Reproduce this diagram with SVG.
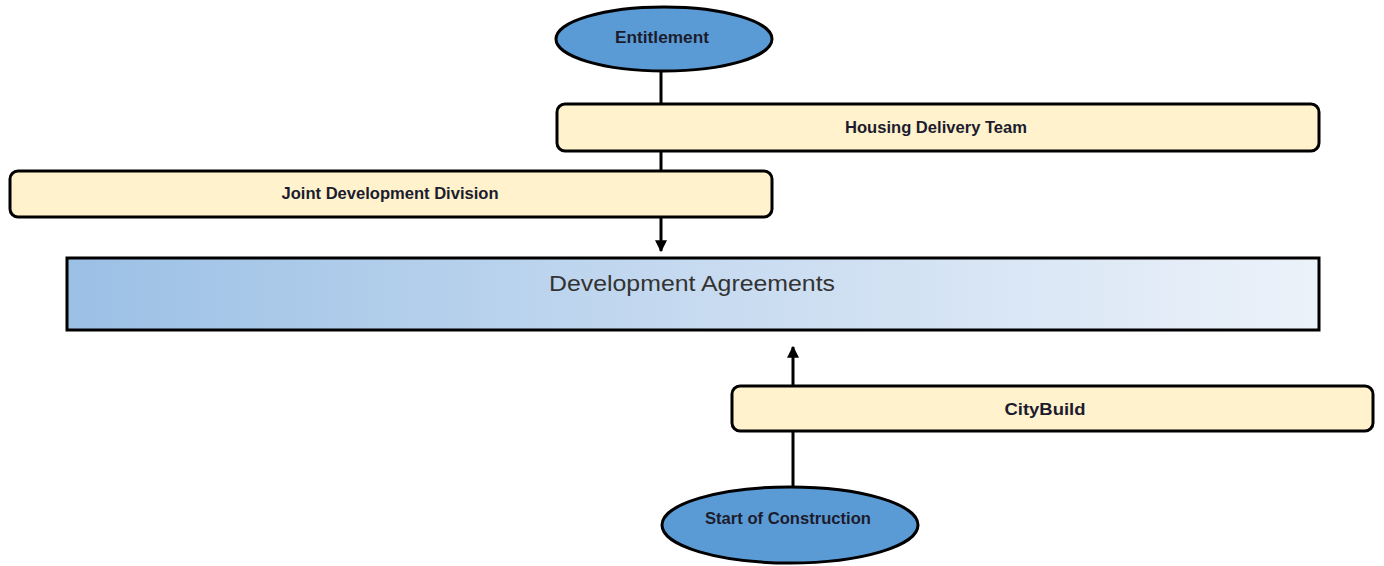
<svg xmlns="http://www.w3.org/2000/svg" width="1384" height="566" viewBox="0 0 1384 566">
  <style>
    .oval { fill: #5b9bd5; stroke: #000; stroke-width: 3; }
    .bar { fill: #fff2cc; stroke: #000; stroke-width: 3; }
    .lbl { font-family: "Liberation Sans", Arial, sans-serif; font-weight: bold; font-size: 16px; fill: #1c1c2e; text-anchor: middle; }
    .big { font-family: "Liberation Sans", Arial, sans-serif; font-size: 22px; fill: #333; text-anchor: middle; }
    .wire { stroke: #000; stroke-width: 3; fill: none; }
  </style>
  <defs>
    <linearGradient id="daFill" x1="0" y1="0" x2="1" y2="0">
      <stop offset="0" stop-color="#9bc0e5"/>
      <stop offset="0.5" stop-color="#c6daf0"/>
      <stop offset="1" stop-color="#ecf2fa"/>
    </linearGradient>
    <marker id="head" viewBox="0 0 10 10" refX="9" refY="5" markerWidth="4" markerHeight="4" orient="auto" markerUnits="strokeWidth">
      <path d="M0,0 L10,5 L0,10 z" fill="#000"/>
    </marker>
  </defs>

  <g id="connectors">
    <line class="wire" x1="661" y1="71" x2="661" y2="104"/>
    <line class="wire" x1="661" y1="151" x2="661" y2="170"/>
    <line class="wire" x1="661" y1="217" x2="661" y2="251" marker-end="url(#head)"/>
    <line class="wire" x1="793" y1="431" x2="793" y2="487"/>
    <line class="wire" x1="793" y1="385" x2="793" y2="347" marker-end="url(#head)"/>
  </g>

  <g id="entitlement">
    <ellipse class="oval" cx="664" cy="39" rx="108" ry="32"/>
    <text class="lbl" x="662" y="43" textLength="94" lengthAdjust="spacingAndGlyphs">Entitlement</text>
  </g>

  <g id="housing-delivery-team">
    <rect class="bar" x="557" y="104" width="762" height="47" rx="8"/>
    <text class="lbl" x="936" y="133" textLength="182" lengthAdjust="spacingAndGlyphs">Housing Delivery Team</text>
  </g>

  <g id="joint-development-division">
    <rect class="bar" x="10" y="171" width="762" height="46" rx="8"/>
    <text class="lbl" x="390" y="199" textLength="217" lengthAdjust="spacingAndGlyphs">Joint Development Division</text>
  </g>

  <g id="development-agreements">
    <rect x="67" y="258" width="1252" height="72" fill="url(#daFill)" stroke="#000" stroke-width="3"/>
    <text class="big" x="692" y="291" textLength="286" lengthAdjust="spacingAndGlyphs">Development Agreements</text>
  </g>

  <g id="citybuild">
    <rect class="bar" x="732" y="386" width="641" height="45" rx="8"/>
    <text class="lbl" x="1045" y="415" textLength="81" lengthAdjust="spacingAndGlyphs">CityBuild</text>
  </g>

  <g id="start-of-construction">
    <ellipse class="oval" cx="790" cy="525" rx="128" ry="38"/>
    <text class="lbl" x="788" y="524" textLength="166" lengthAdjust="spacingAndGlyphs">Start of Construction</text>
  </g>
</svg>
